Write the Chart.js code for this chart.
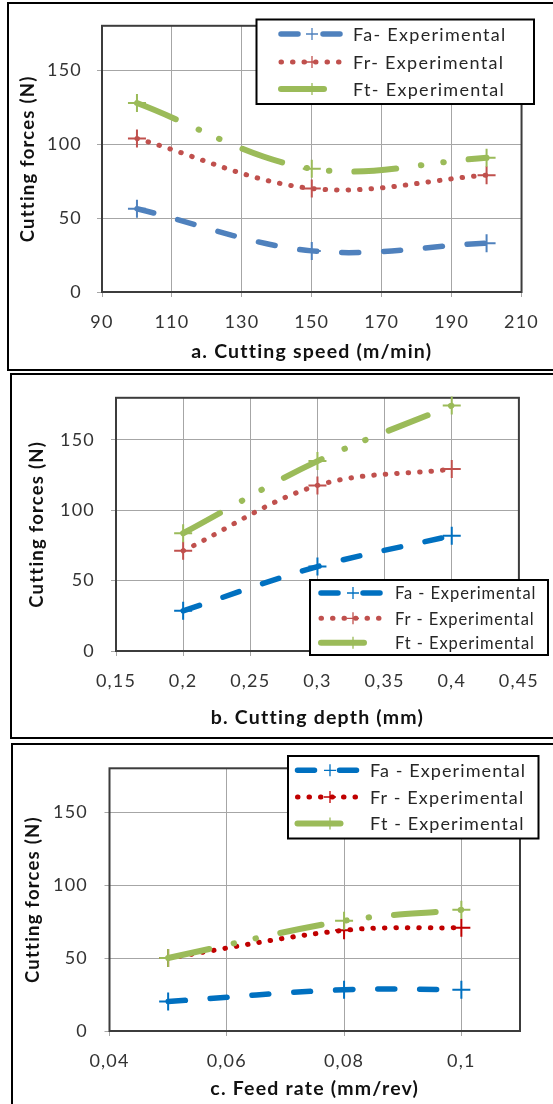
<!DOCTYPE html>
<html><head><meta charset="utf-8">
<script src="https://cdn.jsdelivr.net/npm/chart.js@4"></script>
<style>
html,body{margin:0;padding:0;background:#fff;width:553px;height:1104px;overflow:hidden;position:relative;}
canvas{position:absolute;left:0;}
.panel{position:absolute;border:2px solid #000;box-sizing:border-box;}
</style></head><body>
<div class="panel" style="left:7px;top:2px;width:600px;height:369px"></div>
<div class="panel" style="left:10px;top:373px;width:600px;height:366px"></div>
<div class="panel" style="left:11px;top:743px;width:600px;height:400px"></div>
<canvas id="c1" width="553" height="371" style="top:0"></canvas>
<canvas id="c2" width="553" height="370" style="top:371px"></canvas>
<canvas id="c3" width="553" height="363" style="top:741px"></canvas>
<script>
// ---- data ----
const speedX = [100, 150, 200];
const speedFa = [56.3, 27.8, 33];
const speedFr = [103.8, 70, 79];
const speedFt = [127.8, 83.3, 90.7];
const speedTicks = [90, 110, 130, 150, 170, 190, 210];

const depthX = [0.2, 0.3, 0.4];
const depthFa = [28.6, 60, 82];
const depthFr = [71.2, 117.7, 129.3];
const depthFt = [83.7, 135, 174.5];
const depthTicks = [0.15, 0.2, 0.25, 0.3, 0.35, 0.4, 0.45];

const feedX = [0.05, 0.08, 0.1];
const feedFa = [20.2, 28.3, 28.3];
const feedFr = [50, 69, 70.8];
const feedFt = [50, 75.5, 83];
const feedTicks = [0.04, 0.06, 0.08, 0.1];

const forceTicks = [0, 50, 100, 150];
const namesA = ['Fa- Experimental', 'Fr- Experimental', 'Ft- Experimental'];
const namesB = ['Fa - Experimental', 'Fr - Experimental', 'Ft - Experimental'];

// ---- helpers ----
const FONT = 'Lato, "Open Sans", sans-serif';
const SPACING = '1.2px';
function pts(xs, ys){ return xs.map((x,i)=>({x:x, y:ys[i]})); }
function fmt(v){ return String(+Number(v).toFixed(3)).replace('.', ','); }

function series(label, xs, ys, color, kind){
  const base = {label: label, data: pts(xs, ys), borderColor: color, backgroundColor: color,
    pointStyle: 'cross', pointRadius: 9, pointHoverRadius: 9, pointBorderWidth: 2,
    pointBorderColor: color, borderCapStyle: 'round', tension: 0.35, clip: false, fill: false};
  if (kind === 'a') { base.borderWidth = 5.5; base.borderDash = [17, 25]; base.order = 2; }
  if (kind === 'r') { base.borderWidth = 5; base.borderDash = [0.5, 11]; base.order = 1; }
  if (kind === 't') { base.borderWidth = 6; base.borderDash = [42, 25, 0.5, 22, 0.5, 25]; base.legendDash = [43, 200]; base.order = 0; }
  return base;
}

const spacingPlugin = {
  id: 'spacing',
  beforeLayout(chart){ chart.ctx.letterSpacing = SPACING; },
  beforeDraw(chart){ chart.ctx.letterSpacing = SPACING; }
};

const framePlugin = {
  id: 'frame',
  beforeDatasetsDraw(chart){
    const a = chart.chartArea, ctx = chart.ctx;
    ctx.save(); ctx.strokeStyle = '#3c3c3c'; ctx.lineWidth = 2;
    ctx.strokeRect(a.left, a.top, a.right - a.left, a.bottom - a.top);
    ctx.restore();
  }
};

const legendPlugin = {
  id: 'boxLegend',
  afterDraw(chart, args, o){
    const ctx = chart.ctx;
    ctx.save();
    ctx.fillStyle = '#fff';
    ctx.fillRect(o.box[0], o.box[1], o.box[2]-o.box[0], o.box[3]-o.box[1]);
    ctx.strokeStyle = '#000'; ctx.lineWidth = 2;
    ctx.strokeRect(o.box[0], o.box[1], o.box[2]-o.box[0], o.box[3]-o.box[1]);
    chart.data.datasets.forEach((ds, i) => {
      const y = o.rows[i];
      ctx.save();
      ctx.strokeStyle = ds.borderColor; ctx.lineWidth = ds.borderWidth; ctx.lineCap = 'round';
      ctx.setLineDash(ds.legendDash || ds.borderDash);
      ctx.beginPath(); ctx.moveTo(o.s0, y); ctx.lineTo(o.s1, y); ctx.stroke();
      ctx.setLineDash([]); ctx.lineWidth = 1.3; ctx.lineCap = 'butt';
      ctx.beginPath();
      ctx.moveTo(o.cx - 6, y); ctx.lineTo(o.cx + 6, y);
      ctx.moveTo(o.cx, y - 6); ctx.lineTo(o.cx, y + 6);
      ctx.stroke();
      ctx.restore();
      ctx.letterSpacing = o.spacing;
      ctx.fillStyle = '#262626'; ctx.font = o.size + 'px ' + FONT;
      ctx.textBaseline = 'middle'; ctx.textAlign = 'left';
      ctx.fillText(ds.label, o.tx, y + 1);
    });
    ctx.restore();
  }
};

function build(id, c){
  const g = c.geom;
  return new Chart(document.getElementById(id), {
    type: 'line',
    data: {datasets: c.datasets},
    options: {
      responsive: false, animation: false, devicePixelRatio: 1, events: [],
      layout: {padding: {left: 0, top: g.top, right: 553 - g.right, bottom: 0}},
      plugins: {legend: {display: false}, tooltip: {enabled: false}, boxLegend: c.legend},
      scales: {
        x: {
          type: 'linear', min: c.xTicks[0], max: c.xMax,
          afterBuildTicks: s => { s.ticks = c.xTicks.map(v => ({value: v})); },
          afterFit: s => { s.height = g.H - g.bottom; },
          grid: {color: '#a6a6a6', lineWidth: 1, tickLength: 5, drawTicks: true},
          border: {display: false},
          ticks: {padding: 14, color: '#333', font: {family: FONT, size: 18}, maxRotation: 0, autoSkip: false,
                  callback: v => fmt(v)},
          title: {display: true, text: c.xTitle, color: '#111',
                  font: {family: FONT, size: 19.5, weight: 'bold'}, padding: {top: 0, bottom: g.xPad}}
        },
        y: {
          min: 0, max: 180,
          afterBuildTicks: s => { s.ticks = forceTicks.map(v => ({value: v})); },
          afterFit: s => { s.width = g.left; },
          grid: {color: '#a6a6a6', lineWidth: 1, tickLength: 5, drawTicks: true},
          border: {display: false},
          ticks: {padding: g.yTickPad, color: '#333', font: {family: FONT, size: 18}, callback: v => fmt(v)},
          title: {display: true, text: 'Cutting forces (N)', color: '#111',
                  font: {family: FONT, size: 18.5, weight: 'bold'}, padding: {top: g.yPad, bottom: 0}}
        }
      }
    },
    plugins: [spacingPlugin, framePlugin, legendPlugin]
  });
}

build('c1', {
  geom: {left: 102, right: 523.5, top: 22, bottom: 292, H: 371, xPad: 7.7, yPad: 16.9, yTickPad: 15},
  xTicks: speedTicks, xMax: 210, xTitle: 'a. Cutting speed (m/min)',
  datasets: [
    series(namesA[0], speedX, speedFa, '#4F81BD', 'a'),
    series(namesA[1], speedX, speedFr, '#C0504D', 'r'),
    series(namesA[2], speedX, speedFt, '#9BBB59', 't')
  ],
  legend: {box: [256.5, 19.5, 534, 104], rows: [34, 62, 89], s0: 281, s1: 342, cx: 312, tx: 353, size: 18, spacing: '1.3px'}
});

build('c2', {
  geom: {left: 116, right: 521, top: 22, bottom: 280, H: 370, xPad: 11.1, yPad: 25.9, yTickPad: 16},
  xTicks: depthTicks, xMax: 0.45, xTitle: 'b. Cutting depth (mm)',
  datasets: [
    series(namesB[0], depthX, depthFa, '#0070C0', 'a'),
    series(namesB[1], depthX, depthFr, '#C0504D', 'r'),
    series(namesB[2], depthX, depthFt, '#9BBB59', 't')
  ],
  legend: {box: [310, 209, 548, 284], rows: [222, 247.3, 271.7], s0: 321, s1: 384, cx: 353, tx: 395, size: 16.5, spacing: '0.9px'}
});

build('c3', {
  geom: {left: 109.5, right: 520, top: 22.5, bottom: 290, H: 363, xPad: 3.4, yPad: 22.4, yTickPad: 16.5},
  xTicks: feedTicks, xMax: 0.11, xTitle: 'c. Feed rate (mm/rev)',
  datasets: [
    series(namesB[0], feedX, feedFa, '#0070C0', 'a'),
    series(namesB[1], feedX, feedFr, '#C00000', 'r'),
    series(namesB[2], feedX, feedFt, '#9BBB59', 't')
  ],
  legend: {box: [288, 15, 538.5, 97.5], rows: [29.3, 56, 82.5], s0: 297.5, s1: 358.5, cx: 330, tx: 370, size: 18, spacing: '1.1px'}
});
</script>
</body></html>
